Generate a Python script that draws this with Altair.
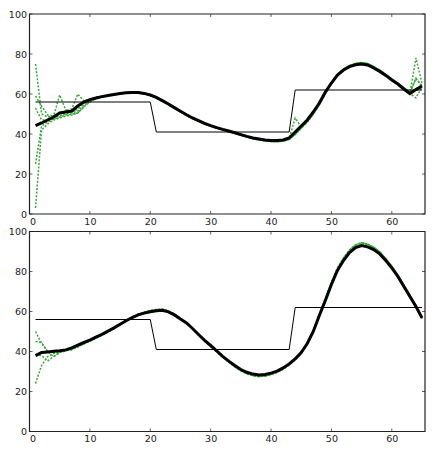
import altair as alt
import pandas as pd

# ---------------- data ----------------
x_vals = list(range(1, 66))
step_x = [1, 20, 21, 43, 44, 65]
step_y = [56, 56, 41, 41, 62, 62]
x_ticks = [0, 10, 20, 30, 40, 50, 60]
y_ticks = [0, 20, 40, 60, 80, 100]

top_model = [44.2, 45.5, 47, 48.5, 50.5, 51, 51.5, 54, 56, 57.2,
             58, 58.7, 59.2, 59.7, 60.2, 60.6, 60.8, 60.8, 60.3, 59.5,
             58.3, 56.7, 55, 53.2, 51.4, 49.6, 48, 46.7, 45.3, 44.2,
             43.2, 42.3, 41.5, 40.6, 39.7, 38.8, 38, 37.5, 37, 36.7,
             36.7, 37, 38, 41, 44, 47, 51, 55.5, 61, 65.5,
             69.5, 72, 73.7, 74.6, 75, 74.5, 73, 71.3, 69.3, 67,
             65, 62.5, 60.2, 62.2, 64]

top_run1 = [75, 50, 48.5, 49, 59.5, 52, 51, 52.5, 55.5, 57.3,
            58.2, 58.8, 59.4, 59.8, 60.3, 60.7, 61, 60.9, 60.5, 59.7,
            58.4, 56.9, 55.2, 53.3, 51.6, 49.8, 48.2, 46.5, 45.2, 44.3,
            43.3, 42.4, 41.5, 40.5, 39.6, 38.7, 37.9, 37.4, 36.9, 36.5,
            36.4, 36.8, 37.6, 40.5, 43.5, 46.5, 50.5, 55, 60.5, 65.3,
            69.6, 72.3, 74, 75.1, 75.6, 75.1, 73.5, 71.6, 69.5, 67.2,
            65.3, 63, 60.5, 78, 65.5]
top_run2 = [59, 54, 49.5, 49, 50.5, 51.5, 52.5, 60, 56.5, 57.5,
            58.3, 58.9, 59.5, 59.9, 60.4, 60.8, 61, 60.9, 60.4, 59.6,
            58.2, 56.6, 54.8, 53, 51.2, 49.4, 47.8, 46.4, 45, 44,
            43, 42.1, 41.3, 40.4, 39.5, 38.6, 37.8, 37.2, 36.7, 36.4,
            36.3, 36.6, 37.8, 48, 43.5, 46, 50, 54.8, 60.3, 65.5,
            69.8, 72.5, 74.2, 75.2, 75.7, 75.2, 73.8, 72, 69.8, 67.5,
            65.5, 63.2, 60.8, 67.5, 64.2]
top_run3 = [53, 47, 47, 48, 49, 50, 50.5, 51.5, 54.5, 56.8,
            57.8, 58.6, 59.3, 59.8, 60.2, 60.6, 60.8, 60.7, 60.2, 59.4,
            58.1, 56.5, 54.9, 53.1, 51.3, 49.5, 47.9, 46.5, 45.1, 44.1,
            43.1, 42.2, 41.4, 40.5, 39.6, 38.7, 37.8, 37.2, 36.7, 36.3,
            36.2, 36.5, 37.2, 39.6, 42.8, 45.8, 49.8, 54.5, 60, 65,
            69.4, 72.2, 74, 75, 75.5, 75, 73.5, 71.7, 69.6, 67.3,
            65.2, 62.8, 60.3, 58, 63.5]
top_run4 = [25, 44, 46, 47.5, 48.5, 49.5, 50, 50.5, 53.5, 56,
            57.6, 58.5, 59.1, 59.6, 60.1, 60.5, 60.7, 60.6, 60.1, 59.3,
            58, 56.4, 54.7, 53, 51.2, 49.4, 47.8, 46.3, 45, 44,
            43, 42.1, 41.2, 40.3, 39.4, 38.5, 37.7, 37.1, 36.6, 36.2,
            36.1, 36.4, 37.3, 39.8, 43, 46.3, 50.2, 54.7, 60.2, 65.2,
            69.5, 72.3, 74.1, 75.1, 75.6, 75.1, 73.6, 71.8, 69.7, 67.4,
            65.3, 62.9, 60.4, 62.5, 64.5]
top_run5 = [3, 42, 45, 47, 48, 49, 49.5, 50.5, 53.8, 56.3,
            57.7, 58.6, 59.2, 59.7, 60.1, 60.5, 60.7, 60.6, 60.1, 59.2,
            57.9, 56.3, 54.6, 52.8, 51, 49.2, 47.6, 46.2, 44.9, 43.9,
            42.9, 42, 41.2, 40.3, 39.4, 38.5, 37.7, 37.1, 36.6, 36.3,
            36.2, 36.5, 37.4, 40, 43.2, 46.5, 50.6, 55.2, 60.7, 65.6,
            69.9, 72.6, 74.3, 75.3, 75.8, 75.3, 73.8, 72, 69.9, 67.6,
            65.5, 63.1, 60.6, 68, 63.8]

bot_model = [37.9, 39.5, 39.8, 40.1, 40.4, 40.8, 41.8, 43.2, 44.5, 45.7,
             47.2, 48.6, 50.2, 51.8, 53.6, 55.4, 57, 58.3, 59.2, 59.9,
             60.4, 60.6, 59.8, 58.3, 56.2, 54.3, 51.5, 48.5, 45.6, 43,
             40.3, 37.6, 35.2, 33, 31, 29.6, 28.7, 28.3, 28.5, 29.2,
             30.2, 31.8, 33.8, 36.3, 39.5, 44, 50, 58, 65.5, 73.5,
             80.5, 85.5, 89.5, 92, 93, 92.3, 91, 88.8, 85.5, 81.8,
             77.5, 72.5, 67.5, 62.5, 56.8]

bot_run1 = [50, 44, 40, 39.5, 40, 40.5, 41, 42.5, 44, 45.4,
            46.9, 48.4, 50, 51.7, 53.5, 55.4, 57.2, 58.7, 59.7, 60.5,
            61, 61.2, 60.4, 58.8, 56.6, 54.5, 51.6, 48.4, 45.4, 42.7,
            40, 37.3, 34.8, 32.5, 30.5, 29, 28, 27.6, 27.8, 28.6,
            29.7, 31.3, 33.4, 36, 39.3, 44, 50.2, 58.4, 66.2, 74.3,
            81.4, 86.5, 90.5, 93.1, 94.2, 93.4, 92, 89.7, 86.3, 82.5,
            78.2, 73.1, 68, 62.8, 56.5]
bot_run2 = [45, 44.5, 40, 37.5, 39.5, 40.5, 41.2, 42.3, 43.8, 45.2,
            46.7, 48.2, 49.8, 51.5, 53.3, 55.2, 57, 58.5, 59.5, 60.3,
            60.9, 61, 60.2, 58.6, 56.4, 54.3, 51.4, 48.3, 45.3, 42.6,
            39.9, 37.2, 34.7, 32.4, 30.4, 28.9, 27.9, 27.5, 27.7, 28.5,
            29.6, 31.2, 33.3, 35.9, 39.2, 44, 50.3, 58.5, 66.4, 74.5,
            81.6, 86.7, 90.7, 93.3, 94.4, 93.6, 92.1, 89.8, 86.4, 82.6,
            78.3, 73.2, 68.1, 62.9, 56.6]
bot_run3 = [38.5, 38, 35.2, 37.5, 39.5, 40.3, 41, 42.4, 43.9, 45.3,
            46.8, 48.3, 49.9, 51.6, 53.4, 55.3, 57.1, 58.6, 59.6, 60.4,
            60.9, 61.1, 60.3, 58.7, 56.5, 54.4, 51.5, 48.3, 45.3, 42.6,
            39.9, 37.2, 34.7, 32.4, 30.4, 28.9, 27.9, 27.5, 27.7, 28.5,
            29.6, 31.2, 33.3, 35.9, 39.3, 44.1, 50.4, 58.6, 66.5, 74.6,
            81.7, 86.8, 90.8, 93.4, 94.5, 93.7, 92.2, 89.9, 86.5, 82.7,
            78.4, 73.3, 68.2, 63, 56.7]
bot_run4 = [24, 33, 37.5, 39, 40, 40.5, 41, 42.3, 43.8, 45.2,
            46.7, 48.2, 49.8, 51.5, 53.3, 55.2, 57, 58.5, 59.5, 60.3,
            60.8, 61, 60.2, 58.6, 56.4, 54.3, 51.4, 48.3, 45.3, 42.6,
            39.9, 37.2, 34.7, 32.4, 30.4, 28.9, 27.9, 27.5, 27.7, 28.5,
            29.6, 31.2, 33.3, 35.9, 39.2, 43.9, 50.2, 58.4, 66.3, 74.4,
            81.5, 86.6, 90.6, 93.2, 94.3, 93.5, 92, 89.7, 86.3, 82.5,
            78.2, 73.1, 68, 62.8, 56.5]

top_runs = [top_run1, top_run2, top_run3, top_run4, top_run5]
bot_runs = [bot_run1, bot_run2, bot_run3, bot_run4]

# ---------------- layout / styling ----------------
PAD_L, PAD_R, PAD_T, PAD_B = 21.5, 1, 6, 12.5
W = 395.5          # plot width (both panels)
PH = 200           # panel height
GAP = 17.5         # vertical gap between the two panels
HT = 2 * PH + GAP  # total plotting height
X_DOMAIN = [0, 65.5]
GREEN = "#36a936"
FONT = "DejaVu Sans"
FS = 9.5
LABEL_COLOR = "#222222"
FRAME = "#222222"


def layers_for_panel(model, runs, y_range, x_axis_offset):
    runs_df = pd.DataFrame(
        [{"x": xv, "y": yv, "run": i}
         for i, r in enumerate(runs) for xv, yv in zip(x_vals, r)]
    )
    model_df = pd.DataFrame({"x": x_vals, "y": model})
    step_df = pd.DataFrame({"x": step_x, "y": step_y})
    xt_df = pd.DataFrame({"x": x_ticks})
    yt_df = pd.DataFrame({"y": y_ticks})
    one_df = pd.DataFrame({"k": [0]})

    xs = alt.Scale(domain=X_DOMAIN, nice=False, zero=False)
    ys = alt.Scale(domain=[0, 100], range=y_range, nice=False, zero=False)

    xaxis = alt.Axis(values=x_ticks, ticks=False, tickSize=0, domain=False,
                     grid=False, labelPadding=2, title=None,
                     labelFont=FONT, labelFontSize=FS, labelColor=LABEL_COLOR,
                     orient="bottom", offset=x_axis_offset, format="d")
    yaxis = alt.Axis(values=y_ticks, ticks=False, tickSize=0, domain=False,
                     grid=False, labelPadding=3, title=None, labelFlush=False,
                     labelFont=FONT, labelFontSize=FS, labelColor=LABEL_COLOR,
                     orient="left", format="d")

    greens = alt.Chart(runs_df).mark_line(
        color=GREEN, strokeWidth=1.5, strokeDash=[2, 1.6]
    ).encode(
        x=alt.X("x:Q", scale=xs, axis=xaxis),
        y=alt.Y("y:Q", scale=ys, axis=yaxis),
        detail="run:N",
    )
    step = alt.Chart(step_df).mark_line(color="black", strokeWidth=1).encode(
        x=alt.X("x:Q", scale=xs, axis=None),
        y=alt.Y("y:Q", scale=ys, axis=None),
    )
    mline = alt.Chart(model_df).mark_line(color="black", strokeWidth=3).encode(
        x=alt.X("x:Q", scale=xs, axis=None),
        y=alt.Y("y:Q", scale=ys, axis=None),
    )
    frame = alt.Chart(one_df).mark_rect(
        filled=False, stroke=FRAME, strokeWidth=1.2
    ).encode(
        x=alt.X(datum=X_DOMAIN[0], scale=xs, axis=None),
        x2=alt.X2(datum=X_DOMAIN[1]),
        y=alt.Y(datum=0, scale=ys, axis=None),
        y2=alt.Y2(datum=100),
    )
    tick = dict(color=FRAME, thickness=1, size=3)
    xt_bottom = alt.Chart(xt_df).mark_tick(orient="vertical", yOffset=-1.5, **tick).encode(
        x=alt.X("x:Q", scale=xs, axis=None),
        y=alt.Y(datum=0, scale=ys, axis=None),
    )
    xt_top = alt.Chart(xt_df).mark_tick(orient="vertical", yOffset=1.5, **tick).encode(
        x=alt.X("x:Q", scale=xs, axis=None),
        y=alt.Y(datum=100, scale=ys, axis=None),
    )
    yt_left = alt.Chart(yt_df).mark_tick(orient="horizontal", xOffset=1.5, **tick).encode(
        y=alt.Y("y:Q", scale=ys, axis=None),
        x=alt.X(datum=X_DOMAIN[0], scale=xs, axis=None),
    )
    yt_right = alt.Chart(yt_df).mark_tick(orient="horizontal", xOffset=-1.5, **tick).encode(
        y=alt.Y("y:Q", scale=ys, axis=None),
        x=alt.X(datum=X_DOMAIN[1], scale=xs, axis=None),
    )
    return [greens, step, mline, frame, xt_bottom, xt_top, yt_left, yt_right]


# top panel: its x axis sits at the bottom of the top panel (offset upwards)
top_layers = layers_for_panel(top_model, top_runs, [PH, 0], -(PH + GAP))
bot_layers = layers_for_panel(bot_model, bot_runs, [HT, PH + GAP], 0)

chart = alt.layer(*top_layers, *bot_layers).resolve_scale(
    x="independent", y="independent"
).resolve_axis(
    x="independent", y="independent"
).properties(
    width=W,
    height=HT,
    autosize=alt.AutoSizeParams(type="none"),
    padding={"left": PAD_L, "top": PAD_T, "right": PAD_R, "bottom": PAD_B},
    title=alt.TitleParams("Positive feedback", fontSize=29, font="Liberation Sans",
                          fontWeight="normal", color="black", anchor="middle",
                          frame="group", baseline="alphabetic", offset=-3),
).configure_view(stroke=None)

chart.save("out.html", embed_options={"renderer": "svg", "actions": False})
